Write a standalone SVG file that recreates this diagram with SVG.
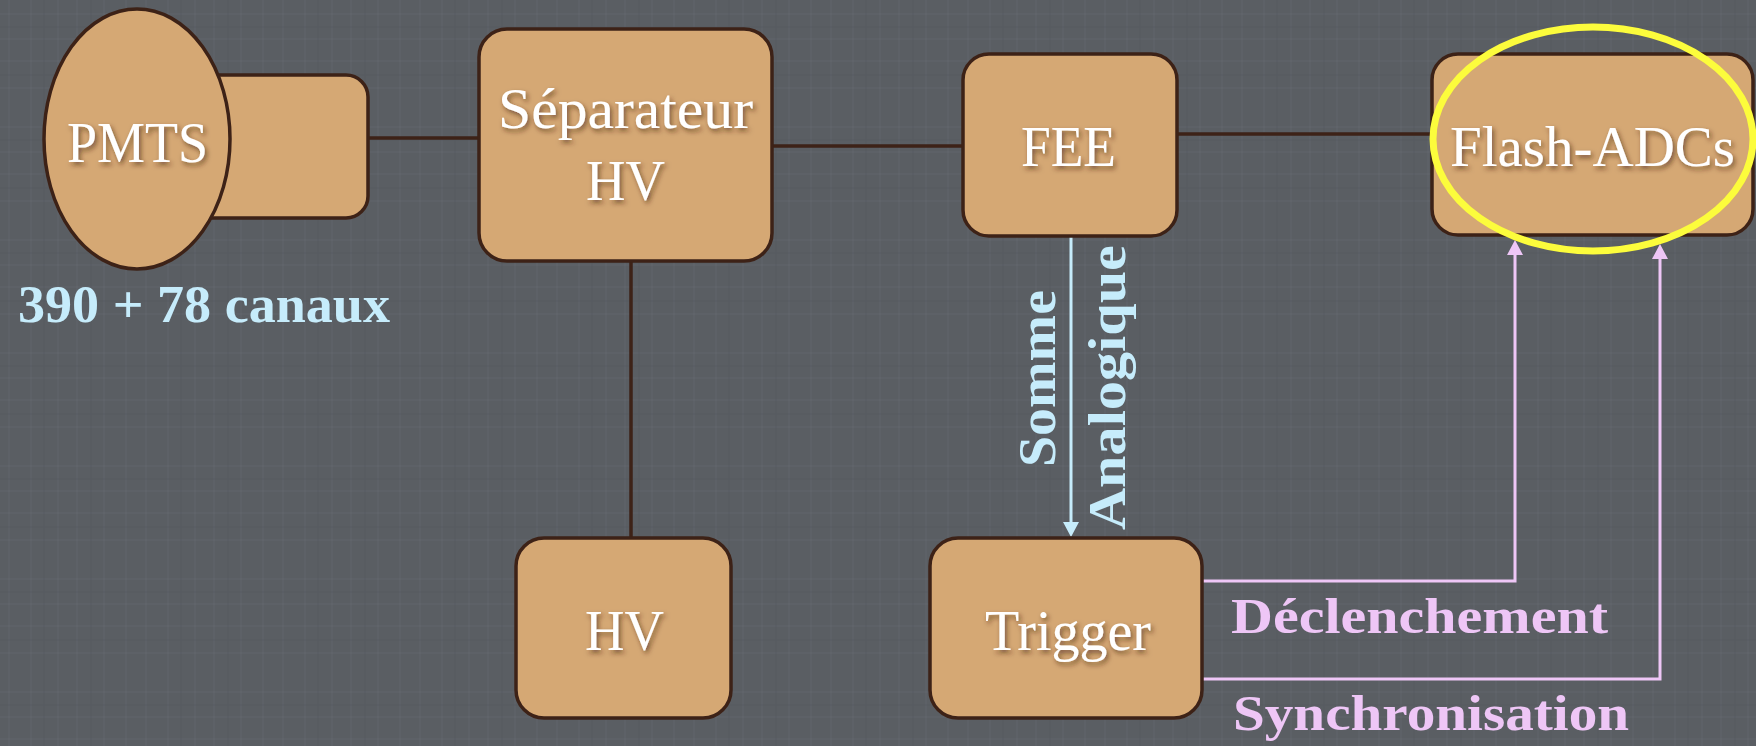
<svg xmlns="http://www.w3.org/2000/svg" width="1756" height="746" viewBox="0 0 1756 746">
<defs>
<style>
.box{fill:#d5a874;stroke:#3d2217;stroke-width:3.5}
.wire{fill:none;stroke:#3d2217;stroke-width:3.5}
.blue{fill:none;stroke:#c6ecfb;stroke-width:3}
.pink{fill:none;stroke:#eec6f6;stroke-width:3}
.nt{font-family:"Liberation Serif","Times New Roman",serif;font-size:56px;fill:#ffffff;filter:url(#sh)}
.bl{font-family:"Liberation Serif","Times New Roman",serif;font-size:53px;font-weight:bold;fill:#c6ecfb}
.pk{font-family:"Liberation Serif","Times New Roman",serif;font-size:51px;font-weight:bold;fill:#eec6f6}
</style>
<filter id="sh" x="-20%" y="-30%" width="140%" height="160%">
<feDropShadow dx="2" dy="3" stdDeviation="2.5" flood-color="#3a2010" flood-opacity="0.6"/>
</filter>
<pattern id="linen" width="137" height="113" patternUnits="userSpaceOnUse">
<rect width="137" height="113" fill="#5a5e63"/>
<path d="M9 0V113M31 0V113M58 0V113M77 0V113M104 0V113M126 0V113" stroke="#6b6f74" stroke-width="1" opacity="0.35"/>
<path d="M0 14H137M0 39H137M0 61H137M0 88H137" stroke="#6b6f74" stroke-width="1" opacity="0.35"/>
<path d="M44 0V113M91 0V113M0 27H137M0 75H137" stroke="#505459" stroke-width="1" opacity="0.45"/>
</pattern>
</defs>
<rect width="1756" height="746" fill="url(#linen)"/>

<g id="connectors">
<path class="wire" d="M368 138H479"/>
<path class="wire" d="M772 146H963"/>
<path class="wire" d="M1177 134H1432"/>
<path class="wire" d="M631 261V537"/>
<path class="blue" d="M1071 236V523"/>
<path d="M1063 522L1079 522L1071 537Z" fill="#c6ecfb"/>
<path class="pink" d="M1202 581H1515V254"/>
<path d="M1515 240L1523 255L1507 255Z" fill="#eec6f6"/>
<path class="pink" d="M1202 679H1660V258"/>
<path d="M1660 244L1668 259L1652 259Z" fill="#eec6f6"/>
<text class="bl" transform="translate(1055 467) rotate(-90)" textLength="177" lengthAdjust="spacingAndGlyphs">Somme</text>
<text class="bl" transform="translate(1125 530) rotate(-90)" textLength="285" lengthAdjust="spacingAndGlyphs">Analogique</text>
<text class="pk" x="1231" y="633" textLength="377" lengthAdjust="spacingAndGlyphs">Déclenchement</text>
<text class="pk" x="1233" y="730" textLength="396" lengthAdjust="spacingAndGlyphs">Synchronisation</text>
</g>

<g id="pmts">
<rect class="box" x="190" y="75" width="178" height="143" rx="22"/>
<ellipse class="box" cx="137" cy="139" rx="93" ry="130"/>
<text class="nt" x="67" y="162" textLength="141" lengthAdjust="spacingAndGlyphs">PMTS</text>
<text class="bl" x="18" y="322" textLength="372" lengthAdjust="spacingAndGlyphs">390 + 78 canaux</text>
</g>

<g id="separateur">
<rect class="box" x="479" y="29" width="293" height="232" rx="28"/>
<text class="nt" x="498" y="128" textLength="255" lengthAdjust="spacingAndGlyphs">Séparateur</text>
<text class="nt" x="586" y="200" textLength="79" lengthAdjust="spacingAndGlyphs">HV</text>
</g>

<g id="fee">
<rect class="box" x="963" y="54" width="214" height="182" rx="26"/>
<text class="nt" x="1021" y="166" textLength="95" lengthAdjust="spacingAndGlyphs">FEE</text>
</g>

<g id="flash">
<rect class="box" x="1432" y="54" width="321" height="181" rx="26"/>
<text class="nt" x="1450" y="166" textLength="285" lengthAdjust="spacingAndGlyphs">Flash-ADCs</text>
<ellipse cx="1593" cy="139" rx="160" ry="112" fill="none" stroke="#fcfc3c" stroke-width="7"/>
</g>

<g id="hv">
<rect class="box" x="516" y="538" width="215" height="180" rx="28"/>
<text class="nt" x="585" y="650" textLength="79" lengthAdjust="spacingAndGlyphs">HV</text>
</g>

<g id="trigger">
<rect class="box" x="930" y="538" width="272" height="180" rx="28"/>
<text class="nt" x="985" y="650" textLength="166" lengthAdjust="spacingAndGlyphs">Trigger</text>
</g>
</svg>
